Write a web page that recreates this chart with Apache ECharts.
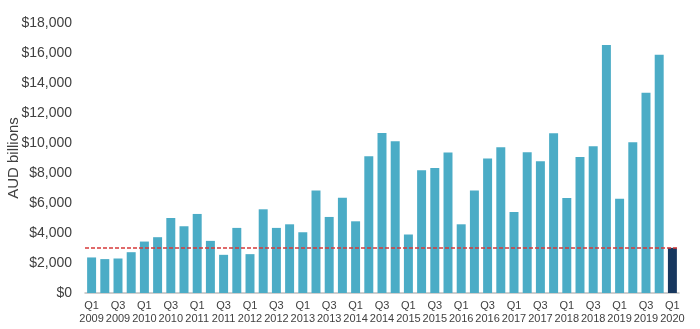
<!DOCTYPE html>
<html>
<head>
<meta charset="utf-8">
<script src="https://cdn.jsdelivr.net/npm/echarts@6/dist/echarts.min.js"></script>
<style>
html,body{margin:0;padding:0;background:#fff;}
#chart{width:700px;height:329px;}
</style>
</head>
<body>
<div id="chart"></div>
<script>
var categories = [
  "Q1\n2009","Q2\n2009","Q3\n2009","Q4\n2009",
  "Q1\n2010","Q2\n2010","Q3\n2010","Q4\n2010",
  "Q1\n2011","Q2\n2011","Q3\n2011","Q4\n2011",
  "Q1\n2012","Q2\n2012","Q3\n2012","Q4\n2012",
  "Q1\n2013","Q2\n2013","Q3\n2013","Q4\n2013",
  "Q1\n2014","Q2\n2014","Q3\n2014","Q4\n2014",
  "Q1\n2015","Q2\n2015","Q3\n2015","Q4\n2015",
  "Q1\n2016","Q2\n2016","Q3\n2016","Q4\n2016",
  "Q1\n2017","Q2\n2017","Q3\n2017","Q4\n2017",
  "Q1\n2018","Q2\n2018","Q3\n2018","Q4\n2018",
  "Q1\n2019","Q2\n2019","Q3\n2019","Q4\n2019",
  "Q1\n2020"
];
var values = [
  2370, 2260, 2300, 2720,
  3430, 3720, 5000, 4450,
  5270, 3475, 2545, 4340,
  2590, 5580, 4340, 4580,
  4050, 6840, 5070, 6350,
  4780, 9120, 10670, 10110,
  3900, 8190, 8340, 9360,
  4580, 6840, 8960, 9710,
  5400, 9380, 8790, 10650,
  6330, 9070, 9780, 16530,
  6280, 10050, 13350, 15890,
  3010
];
var highlightIndex = 44;
var referenceLevel = 3000;
var yMin = 0, yMax = 18000, yInterval = 2000;

var chart = echarts.init(document.getElementById('chart'));
var font = 'Liberation Sans, Arial, sans-serif';
chart.setOption({
  animation: false,
  grid: {left: 85, right: 21, top: 23, bottom: 36, containLabel: false, outerBoundsMode: 'none'},
  xAxis: {
    type: 'category',
    data: categories,
    axisLine: {show: true, lineStyle: {color: '#bfbfbf', width: 1.5}},
    axisTick: {show: false},
    axisLabel: {interval: 1, color: '#404040', fontFamily: font, fontSize: 11, lineHeight: 13, margin: 6}
  },
  yAxis: {
    type: 'value',
    min: yMin, max: yMax, interval: yInterval,
    name: 'AUD billions',
    nameLocation: 'middle',
    nameGap: 64,
    nameMoveOverlap: false,
    nameTextStyle: {color: '#404040', fontFamily: font, fontSize: 15},
    axisLine: {show: false},
    axisTick: {show: false},
    splitLine: {show: false},
    axisLabel: {
      color: '#404040', fontFamily: font, fontSize: 14, margin: 13,
      formatter: function (v) { return '$' + v.toLocaleString('en-US'); }
    }
  },
  series: [{
    type: 'bar',
    data: values.map(function (v, i) {
      return i === highlightIndex ? {value: v, itemStyle: {color: '#17375e'}} : v;
    }),
    itemStyle: {color: '#4bacc6'},
    barCategoryGap: '32%',
    markLine: {
      symbol: 'none',
      silent: true,
      label: {show: false},
      lineStyle: {color: '#d63a3a', type: [4, 2], width: 1.5},
      data: [{yAxis: referenceLevel}]
    }
  }]
});
</script>
</body>
</html>
